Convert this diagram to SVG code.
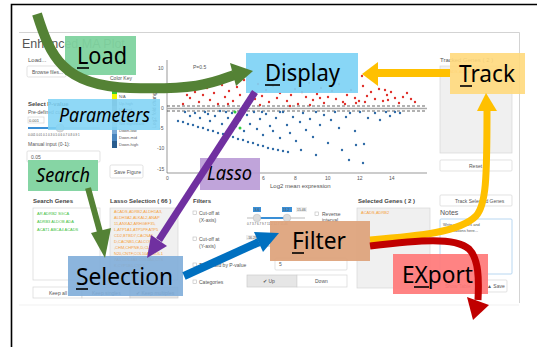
<svg xmlns="http://www.w3.org/2000/svg" width="537" height="347" viewBox="0 0 537 347">
<style>
.ui{font-family:"Liberation Sans",Arial,sans-serif;fill:#555}
.t4{font-size:4px}.t5{font-size:5px}.t6{font-size:6px}.t7{font-size:7px}
.b{font-weight:bold;fill:#444}
.box{fill:#fff;stroke:#d6d6d6;stroke-width:0.7}
.gbox{fill:#f0f0f0;stroke:#d6d6d6;stroke-width:0.7}
.org{fill:#f5a040}
.grn{fill:#3fbf3f}
.lbl{font-family:"Noto Sans","Open Sans",sans-serif;fill:#000}
.red circle{fill:#e0302a}
.blu circle{fill:#2f6aa6}
.ul{stroke:#000;stroke-width:1.6}
</style>
<rect width="537" height="347" fill="#fff"/>
<path d="M11.5,347 V4.5 H537" fill="none" stroke="#000" stroke-width="1.6"/>
<!-- UI panel -->
<path d="M19,32.5 H519.5 V303" fill="none" stroke="#c8c8c8" stroke-width="0.8"/>
<line x1="19" y1="305" x2="519" y2="305" stroke="#eee" stroke-width="0.8"/>
<text class="ui" x="22" y="48" font-size="12.5" fill="#666">Enhanced MA Plot</text>
<text class="ui t6" x="28" y="62">Load...</text>
<rect class="box" x="27" y="66" width="39" height="11" rx="1.5"/>
<text class="ui t5" x="32" y="73.5">Browse files...</text>
<text class="ui t5" x="110" y="80">Color Key</text>
<g>
<rect x="112" y="90" width="5" height="4" fill="#33cc33"/>
<rect x="112" y="94" width="5" height="5" fill="#f5f500"/>
<rect x="112" y="99" width="5" height="7" fill="#888"/>
<rect x="112" y="106" width="5" height="7" fill="#999"/>
<rect x="112" y="113" width="5" height="7" fill="#aaa"/>
<rect x="112" y="120" width="5" height="7" fill="#c9c9c9"/>
<rect x="112" y="127" width="5" height="7" fill="#7aa9d6"/>
<rect x="112" y="134" width="5" height="7" fill="#4a84bd"/>
<rect x="112" y="141" width="5" height="7" fill="#2a5d8f"/>
</g>
<text class="ui t4" x="119" y="98">N/A</text>
<text class="ui t4" x="119" y="104.5">Up-high</text>
<text class="ui t4" x="119" y="111">Up-mid</text>
<text class="ui t4" x="119" y="118">Up-low</text>
<text class="ui t4" x="119" y="125">Not significant</text>
<text class="ui t4" x="119" y="132">Down-low</text>
<text class="ui t4" x="119" y="139">Down-mid</text>
<text class="ui t4" x="119" y="146">Down-high</text>
<text class="ui t6 b" x="28" y="106">Select P-value</text>
<text class="ui t5" x="28" y="114">Pre-defined cut-off</text>
<rect class="box" x="28" y="117" width="16" height="6"/>
<text class="ui t4" x="29" y="121.5">0.001</text>
<line x1="28" y1="128" x2="100" y2="128" stroke="#ddd" stroke-width="2"/>
<line x1="28" y1="128" x2="60" y2="128" stroke="#3a8fd6" stroke-width="2"/>
<circle cx="60" cy="128" r="4" fill="#ddd" stroke="#bbb" stroke-width="0.5"/>
<text class="ui" font-size="3" x="28" y="136">0.001  0.01  0.1  0.3  0.5  0.6  0.7  0.8  0.9  1</text>
<text class="ui t5" x="28" y="146">Manual input (0-1):</text>
<rect class="box" x="27" y="151" width="73" height="11" rx="1"/>
<text class="ui t5" x="31" y="158.5">0.05</text>
<rect class="box" x="110" y="165" width="33" height="13" rx="1.5"/>
<text class="ui t5" x="114" y="173.5">Save Figure</text>
<!-- plot -->
<g stroke="#555" stroke-width="0.6">
<line x1="167" y1="60" x2="167" y2="173"/>
<line x1="167" y1="173" x2="427" y2="173"/>
</g>
<g class="ui t5" fill="#666">
<text x="158" y="70">10</text><text x="161" y="110">0</text><text x="159" y="130">-5</text><text x="157" y="150">-10</text><text x="157" y="171">-15</text>
<text x="166" y="180">0</text><text x="262" y="180">6</text><text x="294" y="180">8</text><text x="325" y="180">10</text><text x="357" y="180">12</text><text x="389" y="180">14</text>
</g>
<text class="ui t6" x="270" y="188">Log2 mean expression</text>
<text class="ui t5" transform="translate(156,128) rotate(-90)">Log2 fold change</text>
<text class="ui t5" x="193" y="69">P=0.5</text>
<g stroke-width="0.7">
<line x1="167" y1="108.5" x2="427" y2="108.5" stroke="#aaa" stroke-width="1.5"/>
<line x1="167" y1="106" x2="427" y2="106" stroke="#222" stroke-dasharray="3,2"/>
<line x1="167" y1="111" x2="427" y2="111" stroke="#222" stroke-dasharray="3,2"/>
</g>
<g class="red">
<circle cx="190" cy="98" r="1.2"/><circle cx="195" cy="92" r="1.2"/><circle cx="199" cy="102" r="1.2"/><circle cx="203" cy="95" r="1.2"/><circle cx="207" cy="88" r="1.2"/><circle cx="210" cy="100" r="1.2"/><circle cx="214" cy="93" r="1.2"/><circle cx="218" cy="104" r="1.2"/><circle cx="222" cy="85" r="1.2"/><circle cx="225" cy="97" r="1.2"/><circle cx="229" cy="91" r="1.2"/><circle cx="233" cy="101" r="1.2"/><circle cx="237" cy="87" r="1.2"/><circle cx="240" cy="95" r="1.2"/><circle cx="244" cy="80" r="1.2"/><circle cx="247" cy="103" r="1.2"/><circle cx="251" cy="92" r="1.2"/><circle cx="255" cy="99" r="1.2"/><circle cx="258" cy="84" r="1.2"/><circle cx="262" cy="96" r="1.2"/><circle cx="266" cy="90" r="1.2"/><circle cx="269" cy="102" r="1.2"/><circle cx="273" cy="86" r="1.2"/><circle cx="277" cy="98" r="1.2"/><circle cx="280" cy="93" r="1.2"/><circle cx="287" cy="101" r="1.2"/><circle cx="291" cy="95" r="1.2"/><circle cx="295" cy="89" r="1.2"/><circle cx="298" cy="104" r="1.2"/><circle cx="302" cy="92" r="1.2"/><circle cx="306" cy="97" r="1.2"/><circle cx="309" cy="83" r="1.2"/><circle cx="313" cy="100" r="1.2"/><circle cx="317" cy="94" r="1.2"/><circle cx="321" cy="88" r="1.2"/><circle cx="324" cy="103" r="1.2"/><circle cx="328" cy="97" r="1.2"/><circle cx="332" cy="91" r="1.2"/><circle cx="336" cy="99" r="1.2"/><circle cx="339" cy="84" r="1.2"/><circle cx="343" cy="102" r="1.2"/><circle cx="347" cy="95" r="1.2"/><circle cx="351" cy="90" r="1.2"/><circle cx="355" cy="98" r="1.2"/><circle cx="359" cy="101" r="1.2"/><circle cx="363" cy="86" r="1.2"/><circle cx="367" cy="96" r="1.2"/><circle cx="371" cy="92" r="1.2"/><circle cx="375" cy="99" r="1.2"/><circle cx="379" cy="89" r="1.2"/><circle cx="383" cy="101" r="1.2"/><circle cx="387" cy="95" r="1.2"/><circle cx="391" cy="92" r="1.2"/><circle cx="395" cy="98" r="1.2"/><circle cx="399" cy="103" r="1.2"/><circle cx="403" cy="97" r="1.2"/><circle cx="407" cy="93" r="1.2"/><circle cx="411" cy="99" r="1.2"/><circle cx="183" cy="104" r="1.2"/><circle cx="187" cy="95" r="1.2"/><circle cx="216" cy="78" r="1.2"/><circle cx="320" cy="98" r="1.2"/><circle cx="356" cy="103" r="1.2"/><circle cx="365" cy="102" r="1.2"/><circle cx="388" cy="100" r="1.2"/><circle cx="415" cy="102" r="1.2"/><circle cx="200" cy="84" r="1.2"/><circle cx="228" cy="104" r="1.2"/><circle cx="260" cy="105" r="1.2"/><circle cx="290" cy="106" r="1.2"/><circle cx="310" cy="105" r="1.2"/><circle cx="345" cy="104" r="1.2"/><circle cx="362" cy="76" r="1.2"/><circle cx="385" cy="90" r="1.2"/>
</g>
<g class="blu">
<circle cx="178" cy="121" r="1.2"/><circle cx="183" cy="122" r="1.2"/><circle cx="188" cy="124" r="1.2"/><circle cx="193" cy="125" r="1.2"/><circle cx="198" cy="127" r="1.2"/><circle cx="203" cy="128" r="1.2"/><circle cx="208" cy="130" r="1.2"/><circle cx="213" cy="131" r="1.2"/><circle cx="218" cy="133" r="1.2"/><circle cx="223" cy="134" r="1.2"/><circle cx="228" cy="136" r="1.2"/><circle cx="233" cy="137" r="1.2"/><circle cx="238" cy="139" r="1.2"/><circle cx="243" cy="140" r="1.2"/><circle cx="248" cy="142" r="1.2"/><circle cx="253" cy="143" r="1.2"/><circle cx="258" cy="145" r="1.2"/><circle cx="263" cy="146" r="1.2"/><circle cx="268" cy="148" r="1.2"/><circle cx="273" cy="149" r="1.2"/><circle cx="278" cy="150" r="1.2"/><circle cx="283" cy="151" r="1.2"/><circle cx="288" cy="152" r="1.2"/>
<circle cx="195" cy="113" r="1.2"/><circle cx="200" cy="118" r="1.2"/><circle cx="205" cy="112" r="1.2"/><circle cx="210" cy="121" r="1.2"/><circle cx="215" cy="116" r="1.2"/><circle cx="220" cy="111" r="1.2"/><circle cx="222" cy="124" r="1.2"/><circle cx="228" cy="118" r="1.2"/><circle cx="232" cy="113" r="1.2"/><circle cx="236" cy="126" r="1.2"/><circle cx="240" cy="120" r="1.2"/><circle cx="244" cy="131" r="1.2"/><circle cx="247" cy="115" r="1.2"/><circle cx="250" cy="124" r="1.2"/><circle cx="254" cy="112" r="1.2"/><circle cx="257" cy="129" r="1.2"/><circle cx="260" cy="119" r="1.2"/><circle cx="263" cy="135" r="1.2"/><circle cx="266" cy="114" r="1.2"/><circle cx="270" cy="126" r="1.2"/><circle cx="273" cy="131" r="1.2"/><circle cx="276" cy="118" r="1.2"/><circle cx="280" cy="138" r="1.2"/><circle cx="283" cy="112" r="1.2"/><circle cx="287" cy="125" r="1.2"/><circle cx="290" cy="133" r="1.2"/><circle cx="293" cy="117" r="1.2"/><circle cx="296" cy="141" r="1.2"/><circle cx="300" cy="122" r="1.2"/><circle cx="303" cy="113" r="1.2"/><circle cx="306" cy="130" r="1.2"/><circle cx="310" cy="119" r="1.2"/><circle cx="313" cy="137" r="1.2"/><circle cx="316" cy="112" r="1.2"/><circle cx="320" cy="125" r="1.2"/><circle cx="324" cy="115" r="1.2"/><circle cx="328" cy="143" r="1.2"/><circle cx="331" cy="120" r="1.2"/><circle cx="335" cy="112" r="1.2"/><circle cx="339" cy="128" r="1.2"/><circle cx="342" cy="150" r="1.2"/><circle cx="346" cy="117" r="1.2"/><circle cx="350" cy="113" r="1.2"/><circle cx="355" cy="131" r="1.2"/><circle cx="360" cy="112" r="1.2"/><circle cx="364" cy="144" r="1.2"/><circle cx="368" cy="118" r="1.2"/><circle cx="375" cy="113" r="1.2"/><circle cx="380" cy="120" r="1.2"/><circle cx="386" cy="112" r="1.2"/><circle cx="390" cy="116" r="1.2"/><circle cx="395" cy="112" r="1.2"/><circle cx="400" cy="113" r="1.2"/><circle cx="349" cy="160" r="1.2"/><circle cx="363" cy="163" r="1.2"/><circle cx="356" cy="145" r="1.2"/><circle cx="301" cy="150" r="1.2"/><circle cx="316" cy="155" r="1.2"/><circle cx="185" cy="112" r="1.2"/><circle cx="190" cy="116" r="1.2"/><circle cx="208" cy="114" r="1.2"/><circle cx="226" cy="112" r="1.2"/><circle cx="244" cy="112" r="1.2"/><circle cx="262" cy="112" r="1.2"/><circle cx="280" cy="112" r="1.2"/>
</g>
<circle cx="235" cy="112" r="1.5" fill="#2ecc40"/><circle cx="240" cy="128" r="1.5" fill="#2ecc40"/>
<!-- right panel -->
<text class="ui t6" x="440" y="62">Tracked Genes ( 2 )</text>
<rect class="gbox" x="440" y="66" width="72" height="87"/>
<text class="ui t4 org" x="444" y="73">ACADS,ADRB2</text>
<rect class="box" x="440" y="160" width="72" height="11" rx="1"/>
<text class="ui t5" x="469" y="167.5">Reset</text>
<rect class="box" x="440" y="195" width="72" height="11" rx="1"/>
<text class="ui t5" x="455" y="202.5">Track Selected Genes</text>
<text class="ui t7" x="440" y="215">Notes</text>
<rect x="440" y="219" width="72" height="55" fill="#fff" stroke="#a6cdee" stroke-width="0.8" rx="1"/>
<text class="ui t4" x="443" y="226" fill="#aaa">Write your notes and</text>
<text class="ui t4" x="443" y="232" fill="#aaa">observations here...</text>
<rect class="box" x="440" y="280" width="36" height="12" rx="1"/>
<text class="ui t5" x="445" y="288">Show Table</text>
<rect class="box" x="482" y="280" width="25" height="12" rx="1"/>
<text class="ui t5" x="487" y="288">&#9650; Save</text>
<!-- bottom left -->
<text class="ui t6 b" x="33" y="203">Search Genes</text>
<rect class="box" x="33" y="208" width="67" height="72"/>
<text class="ui t4 grn" x="37" y="215">AR  ADRB2  SGCA</text>
<text class="ui t4 grn" x="37" y="223">ADRB3  ALDOB  ADA</text>
<text class="ui t4 grn" x="37" y="231">ACAT1  ABCA4  ACADS</text>
<text class="ui t6 b" x="110" y="203">Lasso Selection ( 66 )</text>
<rect class="gbox" x="110" y="208" width="68" height="72"/>
<g class="ui t4 org">
<text x="114" y="213">ACADS,ADRB2,ALDH1A3,</text>
<text x="114" y="219">ALDH3A2,ALKAL2,ANAP</text>
<text x="114" y="225">11,ANXA2,ARHGEF35,</text>
<text x="114" y="231">L,ATP1A1,ATP5PF,ATP5</text>
<text x="114" y="237">CD2,BTBD7,CACNA1</text>
<text x="114" y="243">D,CACNB1,CALCOY1</text>
<text x="114" y="249">,CHM,CHPNE,D,CLD</text>
<text x="114" y="255">N20,CNTF,COL10A1,COL1</text>
<text x="114" y="261">7A1,COL4A3,COL4A4,CTS</text>
<text x="114" y="267">K,CYP1B1,CYP2</text>
</g>
<rect class="box" x="33" y="287" width="49" height="11"/>
<text class="ui t5" x="49" y="294.5">Keep all</text>
<rect class="box" x="82" y="287" width="48" height="11"/>
<text class="ui t5" x="92" y="294.5">Keep singles</text>
<rect x="130" y="287" width="48" height="11" fill="#e6e6e6" stroke="#ccc" stroke-width="0.7"/>
<text class="ui t5" x="136" y="294.5">&#10004; Keep multiples</text>
<!-- filters -->
<text class="ui t6 b" x="193" y="203">Filters</text>
<g fill="#fff" stroke="#bbb" stroke-width="0.6">
<rect x="193" y="211" width="3.5" height="3.5"/><rect x="193" y="237" width="3.5" height="3.5"/><rect x="193" y="263" width="3.5" height="3.5"/><rect x="193" y="280" width="3.5" height="3.5"/><rect x="315" y="212" width="3.5" height="3.5"/>
</g>
<text class="ui t5" x="199" y="215">Cut-off at</text>
<text class="ui t5" x="199" y="222">(X-axis)</text>
<text class="ui t5" x="199" y="241">Cut-off at</text>
<text class="ui t5" x="199" y="248">(Y-axis)</text>
<text class="ui t5" x="199" y="267">Threshold by P-value</text>
<text class="ui t5" x="199" y="284">Categories</text>
<text class="ui t5" x="322" y="216">Reverse</text>
<text class="ui t5" x="322" y="222">interval</text>
<line x1="247" y1="218" x2="305" y2="218" stroke="#ddd" stroke-width="2"/>
<line x1="257" y1="218" x2="287" y2="218" stroke="#3a8fd6" stroke-width="2"/>
<circle cx="257" cy="218" r="3.8" fill="#ddd" stroke="#bbb" stroke-width="0.5"/>
<circle cx="287" cy="218" r="3.8" fill="#ddd" stroke="#bbb" stroke-width="0.5"/>
<rect x="253" y="207" width="8" height="5" fill="#3a8fd6"/><text class="ui" font-size="3.5" fill="#fff" x="254.5" y="211">3.6</text>
<rect x="282" y="207" width="10" height="5" fill="#3a8fd6"/><text class="ui" font-size="3.5" fill="#fff" x="283" y="211">11.2</text>
<rect x="296" y="207" width="11" height="5" fill="#eee"/><text class="ui" font-size="3.5" x="297" y="211">15.46</text>
<text class="ui" font-size="3" x="247" y="225">0.7    3.7    6.7    9.7  11.2 12.7  15.46</text>
<rect x="246" y="235" width="11" height="5" fill="#eee"/><text class="ui" font-size="3.5" x="247" y="239">-16.29</text>
<rect x="264" y="235" width="9" height="5" fill="#3a8fd6"/>
<line x1="247" y1="246" x2="270" y2="246" stroke="#ddd" stroke-width="2"/>
<rect class="box" x="275" y="258" width="72" height="12" rx="1"/>
<text class="ui t5" x="279" y="266">5</text>
<rect x="247" y="275" width="50" height="12" fill="#e6e6e6" stroke="#ccc" stroke-width="0.7"/>
<text class="ui t5" x="263" y="283">&#10004; Up</text>
<rect class="box" x="297" y="275" width="50" height="12"/>
<text class="ui t5" x="315" y="283">Down</text>
<text class="ui t6 b" x="358" y="203">Selected Genes ( 2 )</text>
<rect class="gbox" x="357" y="208" width="73" height="80"/>
<text class="ui t4 org" x="361" y="214">ACADS,ADRB2</text>

<!-- overlay nodes -->
<g id="load"><rect x="65" y="36" width="71" height="39" fill="#7fd39f" fill-opacity="0.95"/><text class="lbl" x="77" y="64" font-size="23" textLength="50" lengthAdjust="spacingAndGlyphs">Load</text><line class="ul" x1="77" y1="68" x2="89" y2="68"/></g>
<g id="display"><rect x="246" y="53" width="112" height="40" fill="#7fd3f5" fill-opacity="0.93"/><text class="lbl" x="265" y="81" font-size="23" textLength="75" lengthAdjust="spacingAndGlyphs">Display</text><line class="ul" x1="265" y1="85" x2="280" y2="85"/></g>
<g id="track"><rect x="450" y="53" width="75" height="41" fill="#ffd97c" fill-opacity="0.9"/><text class="lbl" x="459" y="82" font-size="23" textLength="56" lengthAdjust="spacingAndGlyphs">Track</text><line class="ul" x1="460" y1="86" x2="472" y2="86"/></g>
<g id="parameters"><rect x="48" y="99" width="112" height="31" fill="#7fd3f5" fill-opacity="0.88"/><text class="lbl" x="59" y="122" font-size="20" font-style="italic" textLength="91" lengthAdjust="spacingAndGlyphs">Parameters</text></g>
<g id="search"><rect x="28" y="160" width="70" height="31" fill="#7fd39f" fill-opacity="0.95"/><text class="lbl" x="36" y="182" font-size="19" font-style="italic" textLength="54" lengthAdjust="spacingAndGlyphs">Search</text></g>
<g id="lasso"><rect x="200" y="158" width="60" height="32" fill="#b99ad6" fill-opacity="0.9"/><text class="lbl" x="207" y="180" font-size="19" font-style="italic" textLength="45" lengthAdjust="spacingAndGlyphs">Lasso</text></g>
<g id="selection"><rect x="68" y="256" width="115" height="40" fill="#7fadd9" fill-opacity="0.9"/><text class="lbl" x="76" y="285" font-size="24" textLength="97" lengthAdjust="spacingAndGlyphs">Selection</text><line class="ul" x1="76" y1="289" x2="88" y2="289"/></g>
<g id="filter"><rect x="270" y="221" width="100" height="40" fill="#dea37b" fill-opacity="0.93"/><text class="lbl" x="292" y="249" font-size="23" textLength="54" lengthAdjust="spacingAndGlyphs">Filter</text><line class="ul" x1="292" y1="253" x2="304" y2="253"/></g>
<g id="export"><rect x="393" y="254" width="95" height="40" fill="#ff7a7a" fill-opacity="0.93"/><text class="lbl" x="402" y="283" font-size="23" textLength="71" lengthAdjust="spacingAndGlyphs">EXport</text><line class="ul" x1="414" y1="287" x2="429" y2="287"/></g>

<!-- connectors -->
<g id="connectors" fill="none" stroke-linejoin="round">
<path d="M37,14 C50,55 62,86 130,88 S212,83 234,75" stroke="#548235" stroke-width="10"/>
<polygon points="230,63 253,71 236,86" fill="#548235"/>
<path d="M88,188 L100,232" stroke="#548235" stroke-width="6"/>
<polygon points="91,233 111,228 105,258" fill="#548235"/>
<path d="M255,92 L159,240" stroke="#7030a0" stroke-width="7"/>
<polygon points="151,235 167,246 147,258" fill="#7030a0"/>
<path d="M184,276 L259,242" stroke="#0070c0" stroke-width="8"/>
<polygon points="254,232 279,233 263,252" fill="#0070c0"/>
<path d="M450,73 L376,73" stroke="#ffc000" stroke-width="8"/>
<polygon points="378,62 362,74 378,86" fill="#ffc000"/>
<path d="M370,240 C420,236 460,232 476,216 C486,205 487,180 487,109" stroke="#ffc000" stroke-width="7"/>
<polygon points="477,111 486,93 497,111" fill="#ffc000"/>
<path d="M370,246 C420,240 455,237 469,249 C479,259 479,280 478,300" stroke="#c00000" stroke-width="7"/>
<polygon points="467,297 489,305 473,320" fill="#c00000"/>
</g>
</svg>
